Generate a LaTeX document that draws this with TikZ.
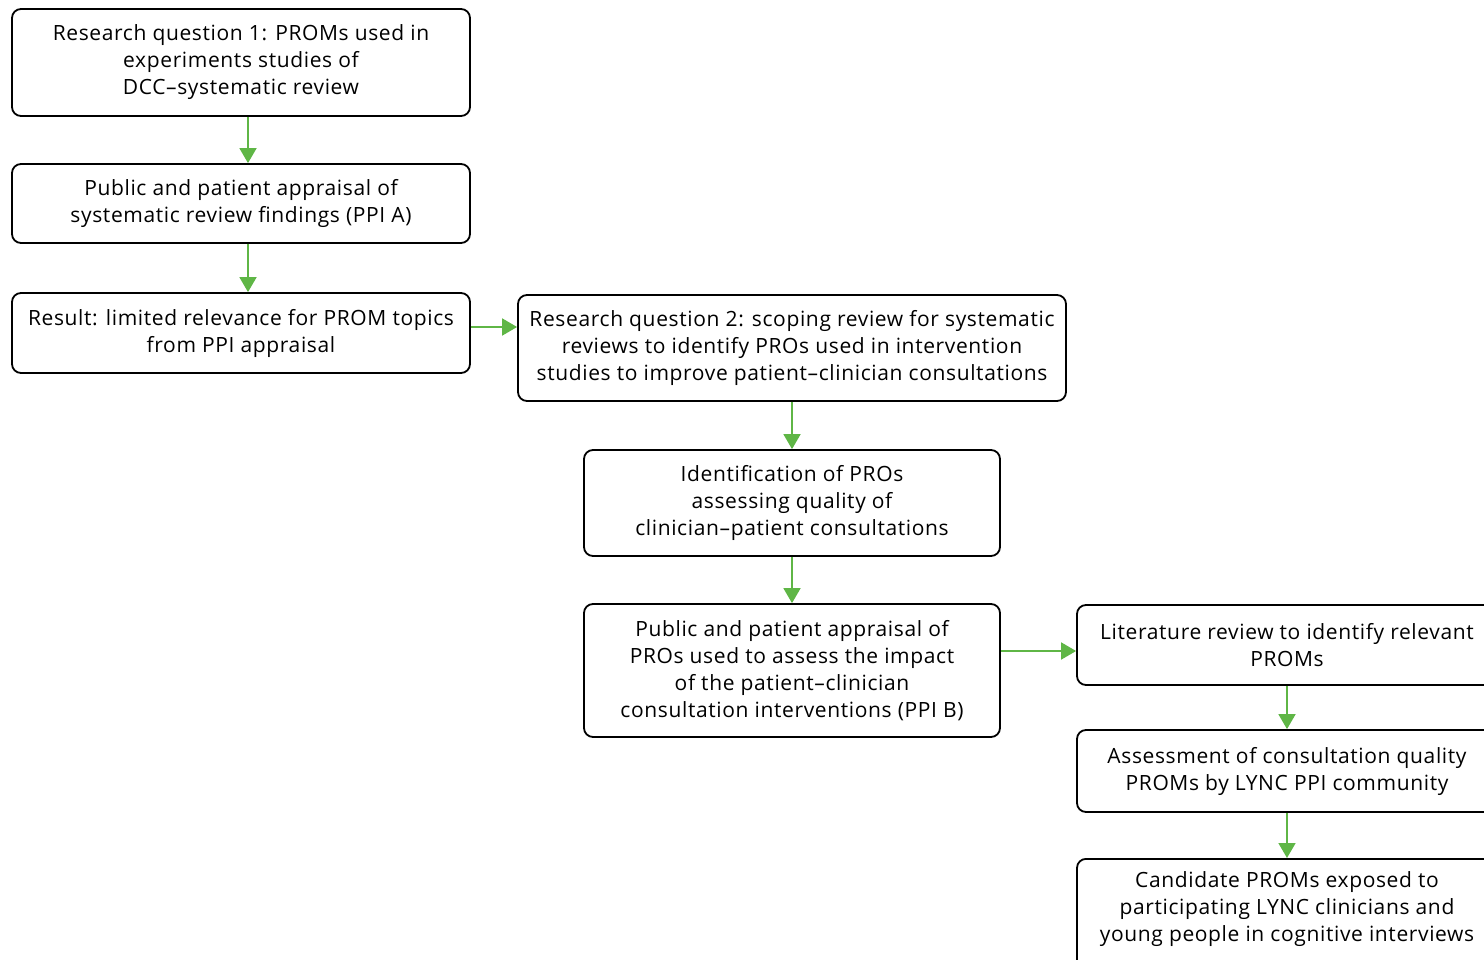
\documentclass[tikz,border=0pt]{standalone}
\usepackage{fontspec}
\setmainfont{Open Sans}[LetterSpace=3]
\usetikzlibrary{arrows.meta,calc}
\definecolor{arrgreen}{HTML}{5FB646}
\tikzset{
  box/.style={draw=black, line width=1.8pt, rounded corners=9pt, fill=white, inner sep=0pt, align=center, font=\fontsize{21}{27}\selectfont},
  txt/.style={inner sep=0pt, align=center, font=\fontsize{21}{27}\selectfont},
  arr/.style={draw=arrgreen, line width=1.8pt, -{Triangle[width=17pt,length=15pt]}}
}
\begin{document}
\begin{tikzpicture}[x=1pt,y=-1pt]
\clip (0,0) rectangle (1484,960);
\node[box, minimum width=458pt, minimum height=107pt] (b1) at (241,62.5) {Research question 1: PROMs used in\\experiments studies of\\DCC--systematic review};
\node[box, minimum width=458pt, minimum height=79pt] (b2) at (241,203.5) {Public and patient appraisal of\\systematic review findings (PPI A)};
\node[box, minimum width=458pt, minimum height=80pt] (b3) at (241,333) {Result: limited relevance for PROM topics\\from PPI appraisal};
\node[box, minimum width=548pt, minimum height=106pt] (b4) at (792,348) {Research question 2: scoping review for systematic\\reviews to identify PROs used in intervention\\studies to improve patient--clinician consultations};
\node[box, minimum width=416pt, minimum height=106pt] (b5) at (792,503) {Identification of PROs\\assessing quality of\\clinician--patient consultations};
\node[box, minimum width=416pt, minimum height=133pt] (b6) at (792,670.5) {Public and patient appraisal of\\PROs used to assess the impact\\of the patient--clinician\\consultation interventions (PPI B)};
\node[box, minimum width=420pt, minimum height=80pt] (b7) at (1287,645) {Literature review to identify relevant\\PROMs};
\node[box, minimum width=420pt, minimum height=82pt] (b8) at (1287,771) {Assessment of consultation quality\\PROMs by LYNC PPI community};
\node[box, minimum width=420pt, minimum height=118pt, anchor=north] (b9) at (1287,858) {};
\node[txt] (b9t) at (1287,909) {Candidate PROMs exposed to\\participating LYNC clinicians and\\young people in cognitive interviews};
\draw[arr] ([xshift=7pt]b1.south) -- ([xshift=7pt]b2.north);
\draw[arr] ([xshift=7pt]b2.south) -- ([xshift=7pt]b3.north);
\draw[arr] ([yshift=6pt]b3.east) -- ([yshift=6pt]b3.east -| b4.west);
\draw[arr] (b4.south) -- (b5.north);
\draw[arr] (b5.south) -- (b6.north);
\draw[arr] ([yshift=-6pt]b7.west -| b6.east) -- ([yshift=-6pt]b7.west);
\draw[arr] (b7.south) -- (b8.north);
\draw[arr] (b8.south) -- (b9.north);
\end{tikzpicture}
\end{document}
